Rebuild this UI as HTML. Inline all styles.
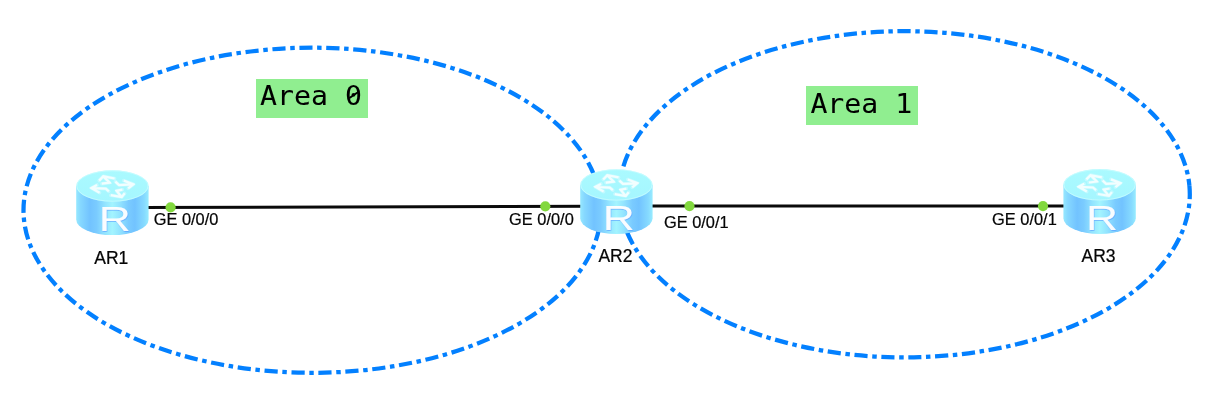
<!DOCTYPE html>
<html lang="en">
<head>
<meta charset="utf-8">
<title>OSPF multi-area topology</title>
<style>
  html, body { margin: 0; padding: 0; background: #ffffff; }
  body { width: 1229px; height: 416px; overflow: hidden; }
  .topo { position: relative; width: 1229px; height: 416px; background: #ffffff; overflow: hidden;
           font-family: "Liberation Sans", Arial, sans-serif; color: #000; }
  .topo svg { position: absolute; left: 0; top: 0; display: block; }
  .lbl { position: absolute; white-space: nowrap; line-height: 1; color: #050505; transform-origin: 0 0;
          -webkit-text-stroke: 0.22px #050505; }
  .port { font-size: 16.4px; transform: scale(1.0, 1.05); }
  .dev { font-size: 17.5px; transform: scale(1.0, 1.07); }
  .area { position: absolute; box-sizing: border-box; background: #90ee90; width: 112.0px; height: 38.8px;
           padding-left: 4.3px; overflow: hidden; }
  .area span { display: block; white-space: pre; font-family: "DejaVu Sans Mono", "Liberation Mono", monospace;
           font-size: 28.2px; line-height: inherit; color: #000; -webkit-text-stroke: 0.06px #000;
           transform: scale(1, 0.95); transform-origin: 0 0; }
  .z { position: relative; font-weight: normal; }
  .z::after { content: ""; position: absolute; left: 50%; top: 50%; width: 11.4px; height: 2.2px; margin: -1.6px 0 0 -5.9px;
           background: #000; border-radius: 1px; transform: rotate(-36deg); }
</style>
</head>
<body>
<div class="topo">
<svg width="1229" height="416" viewBox="0 0 1229 416">
  <defs>
    <linearGradient id="body" x1="0" y1="0" x2="1" y2="0">
      <stop offset="0" stop-color="#96e8ff"/>
      <stop offset="0.06" stop-color="#86d8ff"/>
      <stop offset="0.19" stop-color="#72c3ff"/>
      <stop offset="0.28" stop-color="#7acbff"/>
      <stop offset="0.4" stop-color="#93e4ff"/>
      <stop offset="0.5" stop-color="#a3f4ff"/>
      <stop offset="0.6" stop-color="#93e4ff"/>
      <stop offset="0.72" stop-color="#7acbff"/>
      <stop offset="0.81" stop-color="#72c3ff"/>
      <stop offset="0.94" stop-color="#86daff"/>
      <stop offset="1" stop-color="#98ecff"/>
    </linearGradient>
    <filter id="rs" x="-20%" y="-20%" width="140%" height="140%">
      <feDropShadow dx="0.4" dy="0.85" stdDeviation="0.4" flood-color="#4f8fff" flood-opacity="0.6"/>
    </filter>
    <linearGradient id="top" x1="0" y1="0" x2="0" y2="1">
      <stop offset="0" stop-color="#aafaff"/>
      <stop offset="1" stop-color="#a5f6ff"/>
    </linearGradient>
  </defs>
  <g class="areas">
    <path d="M600.90 210.25 A288.7 162.55 0 1 1 23.50 210.25 A288.7 162.55 0 1 1 600.90 210.25" fill="none" stroke="#0380ff" stroke-width="4.25" stroke-dasharray="13.2 4.65 4.5 4.65" stroke-dashoffset="9.2"/>
    <path d="M1189.41 185.76 A285.3 163.1 0 1 1 619.59 202.84 A285.3 163.1 0 1 1 1189.41 185.76" fill="none" stroke="#0380ff" stroke-width="4.25" stroke-dasharray="13.2 4.6 4.5 4.63" stroke-dashoffset="-0.15"/>
  </g>
  <g class="links" stroke="#0a0a0a" stroke-width="3" fill="none">
    <line x1="140" y1="207.45" x2="590" y2="206.3"/>
    <line x1="640" y1="206.1" x2="1075" y2="206.1"/>
  </g>
  <g class="ports" fill="#82d83e">
    <circle cx="170.6" cy="207.4" r="5.1"/>
    <circle cx="545.3" cy="206.3" r="5.1"/>
    <circle cx="689.5" cy="206.1" r="5.1"/>
    <circle cx="1043" cy="206.1" r="5.1"/>
  </g>
  
  <g class="router" transform="translate(76.2 170.3)">
    <path d="M0 15.7 L0 49.1 A36.2 15.7 0 0 0 72.4 49.1 L72.4 15.7 Z" fill="url(#body)"/>
    <ellipse cx="36.2" cy="15.7" rx="36.2" ry="15.7" fill="url(#top)"/>
    <ellipse cx="36.2" cy="15.7" rx="35.6" ry="15.2" fill="none" stroke="#d9fdff" stroke-opacity=".55" stroke-width="1"/>
    <g fill="none" stroke="#ffffff" stroke-linejoin="round" stroke-linecap="round">
      <g stroke-opacity=".3" stroke-width="3.6">
        <path d="M23 10.3 L27.1 6 L38.4 8.2 M27.9 6.8 L33.4 12.4 L25.6 13.4"/>
        <path d="M47.6 10.3 L57.2 14 L52 18.1 M56.4 14.1 L42.8 14.7 L39.2 11.4"/>
        <path d="M20.8 14.7 L15.2 17.7 L23.4 22.4 M16.1 17.8 L29.6 18.4 L32.6 21"/>
        <path d="M34.6 24.9 L45.5 26.8 L48.5 23 M44.9 26.2 L40.4 20.5 L46.2 19.4"/>
      </g>
      <g stroke-opacity=".78" stroke-width="2.25" stroke-linejoin="miter" stroke-linecap="butt">
        <path d="M23 10.3 L27.1 6 L38.4 8.2 M27.9 6.8 L33.4 12.4 L25.6 13.4"/>
        <path d="M47.6 10.3 L57.2 14 L52 18.1 M56.4 14.1 L42.8 14.7 L39.2 11.4"/>
        <path d="M20.8 14.7 L15.2 17.7 L23.4 22.4 M16.1 17.8 L29.6 18.4 L32.6 21"/>
        <path d="M34.6 24.9 L45.5 26.8 L48.5 23 M44.9 26.2 L40.4 20.5 L46.2 19.4"/>
      </g>
    </g>
    <text x="0" y="0" text-anchor="middle" font-family="'Liberation Sans', Arial, sans-serif" font-size="33.4" fill="#ffffff" fill-opacity=".95" filter="url(#rs)" transform="translate(38.6 60.5) scale(1.33 1.06)">R</text>
  </g>
  <g class="router" transform="translate(580.2 169.2)">
    <path d="M0 15.7 L0 49.1 A36.2 15.7 0 0 0 72.4 49.1 L72.4 15.7 Z" fill="url(#body)"/>
    <ellipse cx="36.2" cy="15.7" rx="36.2" ry="15.7" fill="url(#top)"/>
    <ellipse cx="36.2" cy="15.7" rx="35.6" ry="15.2" fill="none" stroke="#d9fdff" stroke-opacity=".55" stroke-width="1"/>
    <g fill="none" stroke="#ffffff" stroke-linejoin="round" stroke-linecap="round">
      <g stroke-opacity=".3" stroke-width="3.6">
        <path d="M23 10.3 L27.1 6 L38.4 8.2 M27.9 6.8 L33.4 12.4 L25.6 13.4"/>
        <path d="M47.6 10.3 L57.2 14 L52 18.1 M56.4 14.1 L42.8 14.7 L39.2 11.4"/>
        <path d="M20.8 14.7 L15.2 17.7 L23.4 22.4 M16.1 17.8 L29.6 18.4 L32.6 21"/>
        <path d="M34.6 24.9 L45.5 26.8 L48.5 23 M44.9 26.2 L40.4 20.5 L46.2 19.4"/>
      </g>
      <g stroke-opacity=".78" stroke-width="2.25" stroke-linejoin="miter" stroke-linecap="butt">
        <path d="M23 10.3 L27.1 6 L38.4 8.2 M27.9 6.8 L33.4 12.4 L25.6 13.4"/>
        <path d="M47.6 10.3 L57.2 14 L52 18.1 M56.4 14.1 L42.8 14.7 L39.2 11.4"/>
        <path d="M20.8 14.7 L15.2 17.7 L23.4 22.4 M16.1 17.8 L29.6 18.4 L32.6 21"/>
        <path d="M34.6 24.9 L45.5 26.8 L48.5 23 M44.9 26.2 L40.4 20.5 L46.2 19.4"/>
      </g>
    </g>
    <text x="0" y="0" text-anchor="middle" font-family="'Liberation Sans', Arial, sans-serif" font-size="33.4" fill="#ffffff" fill-opacity=".95" filter="url(#rs)" transform="translate(38.6 60.5) scale(1.33 1.06)">R</text>
  </g>
  <g class="router" transform="translate(1063.4 169.1)">
    <path d="M0 15.7 L0 49.1 A36.2 15.7 0 0 0 72.4 49.1 L72.4 15.7 Z" fill="url(#body)"/>
    <ellipse cx="36.2" cy="15.7" rx="36.2" ry="15.7" fill="url(#top)"/>
    <ellipse cx="36.2" cy="15.7" rx="35.6" ry="15.2" fill="none" stroke="#d9fdff" stroke-opacity=".55" stroke-width="1"/>
    <g fill="none" stroke="#ffffff" stroke-linejoin="round" stroke-linecap="round">
      <g stroke-opacity=".3" stroke-width="3.6">
        <path d="M23 10.3 L27.1 6 L38.4 8.2 M27.9 6.8 L33.4 12.4 L25.6 13.4"/>
        <path d="M47.6 10.3 L57.2 14 L52 18.1 M56.4 14.1 L42.8 14.7 L39.2 11.4"/>
        <path d="M20.8 14.7 L15.2 17.7 L23.4 22.4 M16.1 17.8 L29.6 18.4 L32.6 21"/>
        <path d="M34.6 24.9 L45.5 26.8 L48.5 23 M44.9 26.2 L40.4 20.5 L46.2 19.4"/>
      </g>
      <g stroke-opacity=".78" stroke-width="2.25" stroke-linejoin="miter" stroke-linecap="butt">
        <path d="M23 10.3 L27.1 6 L38.4 8.2 M27.9 6.8 L33.4 12.4 L25.6 13.4"/>
        <path d="M47.6 10.3 L57.2 14 L52 18.1 M56.4 14.1 L42.8 14.7 L39.2 11.4"/>
        <path d="M20.8 14.7 L15.2 17.7 L23.4 22.4 M16.1 17.8 L29.6 18.4 L32.6 21"/>
        <path d="M34.6 24.9 L45.5 26.8 L48.5 23 M44.9 26.2 L40.4 20.5 L46.2 19.4"/>
      </g>
    </g>
    <text x="0" y="0" text-anchor="middle" font-family="'Liberation Sans', Arial, sans-serif" font-size="33.4" fill="#ffffff" fill-opacity=".95" filter="url(#rs)" transform="translate(38.6 60.5) scale(1.33 1.06)">R</text>
  </g>
</svg>
<div class="area" style="left:255.8px;top:79.0px;line-height:36.0px;"><span>Area <b class="z">0</b></span></div>
<div class="area" style="left:806.1px;top:86.0px;line-height:38.1px;"><span>Area 1</span></div>
<div class="lbl port" style="left:153.7px;top:210.4px;">GE 0/0/0</div>
<div class="lbl port" style="left:509.1px;top:210.4px;">GE 0/0/0</div>
<div class="lbl port" style="left:663.9px;top:213.4px;">GE 0/0/1</div>
<div class="lbl port" style="left:992.1px;top:210.4px;">GE 0/0/1</div>
<div class="lbl dev" style="left:94.3px;top:248.7px;">AR1</div>
<div class="lbl dev" style="left:598.4px;top:246.9px;">AR2</div>
<div class="lbl dev" style="left:1081.5px;top:246.9px;">AR3</div>
</div>
</body>
</html>
